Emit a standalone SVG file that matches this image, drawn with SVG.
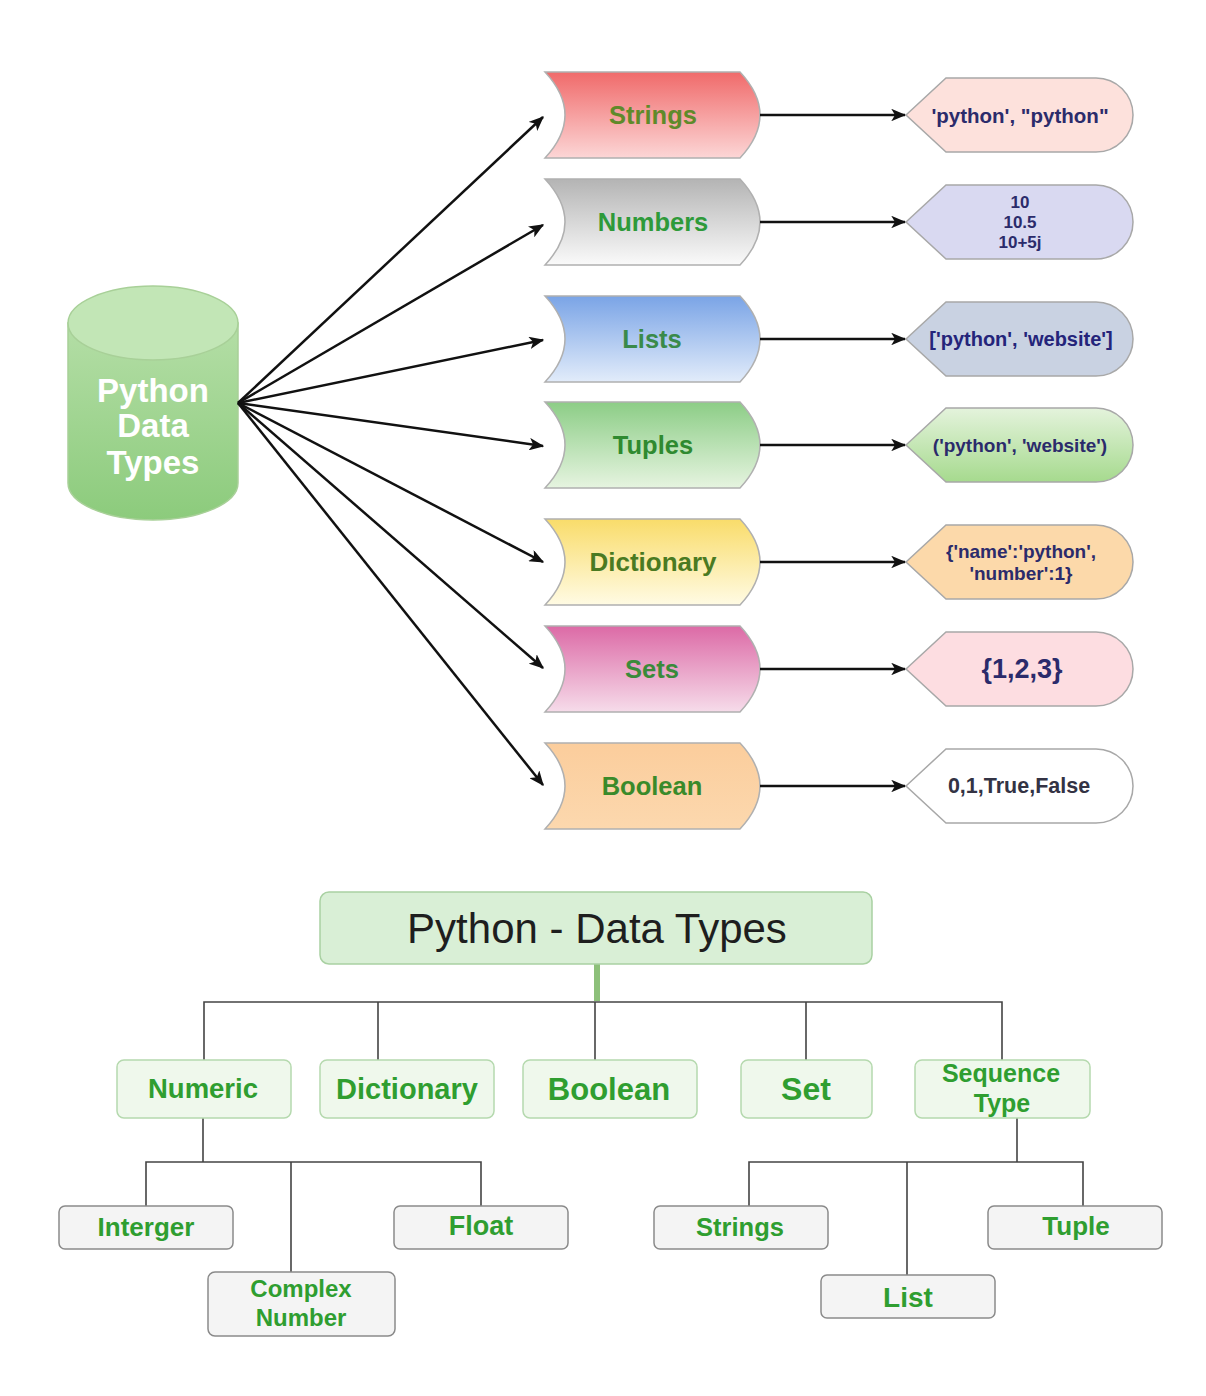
<svg xmlns="http://www.w3.org/2000/svg" width="1206" height="1396" viewBox="0 0 1206 1396">
<style>
  .bl{font-family:"Liberation Sans",Arial,sans-serif;font-weight:bold;font-size:25.5px;text-anchor:middle;dominant-baseline:central}
  .ex{font-family:"Liberation Sans",Arial,sans-serif;font-weight:bold;font-size:20px;fill:#2b2b6b;text-anchor:middle;dominant-baseline:central}
  .ban{stroke:#b0b0b0;stroke-width:1.5}
  .disp{stroke:#a8a8a8;stroke-width:1.5}
  .arr{stroke:#111;stroke-width:2.5;fill:none;marker-end:url(#ah)}
  .tl{stroke:#444;stroke-width:1.6;fill:none}
  .l2{fill:#eff8ec;stroke:#b5d9ae;stroke-width:1.5}
  .l3{fill:#f4f4f4;stroke:#8a8a8a;stroke-width:1.5}
  .gt{font-family:"Liberation Sans",Arial,sans-serif;font-weight:bold;fill:#2f9e30;text-anchor:middle;dominant-baseline:central}
</style>
<defs>
  <marker id="ah" viewBox="0 0 12 10" refX="11" refY="5" markerWidth="6" markerHeight="5" orient="auto" markerUnits="strokeWidth">
    <path d="M0,0 L12,5 L0,10 L3,5 Z" fill="#111"/>
  </marker>
  <linearGradient id="gStr" x1="0" y1="0" x2="0" y2="1"><stop offset="0" stop-color="#f06a6a"/><stop offset="1" stop-color="#fcd6d6"/></linearGradient>
  <linearGradient id="gNum" x1="0" y1="0" x2="0" y2="1"><stop offset="0" stop-color="#b4b4b4"/><stop offset="1" stop-color="#fafafa"/></linearGradient>
  <linearGradient id="gLst" x1="0" y1="0" x2="0" y2="1"><stop offset="0" stop-color="#7aa4e6"/><stop offset="1" stop-color="#e2ecfa"/></linearGradient>
  <linearGradient id="gTup" x1="0" y1="0" x2="0" y2="1"><stop offset="0" stop-color="#8ccd86"/><stop offset="1" stop-color="#e6f4e0"/></linearGradient>
  <linearGradient id="gDic" x1="0" y1="0" x2="0" y2="1"><stop offset="0" stop-color="#f9dc6a"/><stop offset="1" stop-color="#fffbe4"/></linearGradient>
  <linearGradient id="gSet" x1="0" y1="0" x2="0" y2="1"><stop offset="0" stop-color="#dc6aa6"/><stop offset="1" stop-color="#f6dcea"/></linearGradient>
  <linearGradient id="gBoo" x1="0" y1="0" x2="0" y2="1"><stop offset="0" stop-color="#fbcd9c"/><stop offset="1" stop-color="#fcd8ae"/></linearGradient>
  <linearGradient id="gTupX" x1="0" y1="0" x2="0" y2="1"><stop offset="0" stop-color="#e4f3dc"/><stop offset="1" stop-color="#a6da8e"/></linearGradient>
  <linearGradient id="gCyl" x1="0" y1="0" x2="0" y2="1"><stop offset="0" stop-color="#b4dea6"/><stop offset="1" stop-color="#8ccb7c"/></linearGradient>
</defs>
<rect width="1206" height="1396" fill="#ffffff"/>

<!-- Cylinder -->
<g id="python-data-types">
  <path d="M68,323 L68,483 A85,37 0 0 0 238,483 L238,323 Z" fill="url(#gCyl)" stroke="#a8d098" stroke-width="1.5"/>
  <ellipse cx="153" cy="323" rx="85" ry="37" fill="#c2e6b6" stroke="#a8d098" stroke-width="1.5"/>
  <text x="153" y="390" class="bl" style="fill:#ffffff;font-size:33px">Python</text>
  <text x="153" y="425" class="bl" style="fill:#ffffff;font-size:33px">Data</text>
  <text x="153" y="462" class="bl" style="fill:#ffffff;font-size:33px">Types</text>
</g>

<!-- Banners -->
<g id="strings">
  <path class="ban" d="M545,72 L740,72 Q780,115 740,158 L545,158 Q585,115 545,72 Z" fill="url(#gStr)"/>
  <text x="653" y="115" class="bl" fill="#5f8a2a">Strings</text>
</g>
<g id="numbers">
  <path class="ban" d="M545,179 L740,179 Q780,222 740,265 L545,265 Q585,222 545,179 Z" fill="url(#gNum)"/>
  <text x="653" y="222" class="bl" fill="#2e9a3a">Numbers</text>
</g>
<g id="lists">
  <path class="ban" d="M545,296 L740,296 Q780,339 740,382 L545,382 Q585,339 545,296 Z" fill="url(#gLst)"/>
  <text x="652" y="339" class="bl" fill="#3a8a4a">Lists</text>
</g>
<g id="tuples">
  <path class="ban" d="M545,402 L740,402 Q780,445 740,488 L545,488 Q585,445 545,402 Z" fill="url(#gTup)"/>
  <text x="653" y="445" class="bl" fill="#2f8a30">Tuples</text>
</g>
<g id="dictionary">
  <path class="ban" d="M545,519 L740,519 Q780,562 740,605 L545,605 Q585,562 545,519 Z" fill="url(#gDic)"/>
  <text x="653" y="562" class="bl" fill="#4a7a22" style="font-size:26px">Dictionary</text>
</g>
<g id="sets">
  <path class="ban" d="M545,626 L740,626 Q780,669 740,712 L545,712 Q585,669 545,626 Z" fill="url(#gSet)"/>
  <text x="652" y="669" class="bl" fill="#3a8a3a">Sets</text>
</g>
<g id="boolean">
  <path class="ban" d="M545,743 L740,743 Q780,786 740,829 L545,829 Q585,786 545,743 Z" fill="url(#gBoo)"/>
  <text x="652" y="786" class="bl" fill="#3a8a2a">Boolean</text>
</g>

<!-- Example displays -->
<g id="ex-strings">
  <path class="disp" d="M906,115 L946,78 L1096,78 A37,37 0 0 1 1096,152 L946,152 Z" fill="#fde1dc"/>
  <text x="1020" y="115" class="ex" style="font-size:20.5px">'python', "python"</text>
</g>
<g id="ex-numbers">
  <path class="disp" d="M906,222 L946,185 L1096,185 A37,37 0 0 1 1096,259 L946,259 Z" fill="#d9d9f1"/>
  <text x="1020" y="202" class="ex" style="font-size:17px">10</text>
  <text x="1020" y="222" class="ex" style="font-size:17px">10.5</text>
  <text x="1020" y="242" class="ex" style="font-size:17px">10+5j</text>
</g>
<g id="ex-lists">
  <path class="disp" d="M906,339 L946,302 L1096,302 A37,37 0 0 1 1096,376 L946,376 Z" fill="#c9d2e2"/>
  <text x="1021" y="339" class="ex" style="fill:#24247a">['python', 'website']</text>
</g>
<g id="ex-tuples">
  <path class="disp" d="M906,445 L946,408 L1096,408 A37,37 0 0 1 1096,482 L946,482 Z" fill="url(#gTupX)"/>
  <text x="1020" y="445" class="ex" style="font-size:19px">('python', 'website')</text>
</g>
<g id="ex-dictionary">
  <path class="disp" d="M906,562 L946,525 L1096,525 A37,37 0 0 1 1096,599 L946,599 Z" fill="#fcd9aa"/>
  <text x="1021" y="551" class="ex" style="font-size:19px">{'name':'python',</text>
  <text x="1021" y="573" class="ex" style="font-size:19px">'number':1}</text>
</g>
<g id="ex-sets">
  <path class="disp" d="M906,669 L946,632 L1096,632 A37,37 0 0 1 1096,706 L946,706 Z" fill="#fddde1"/>
  <text x="1022" y="669" class="ex" style="font-size:27px">{1,2,3}</text>
</g>
<g id="ex-boolean">
  <path class="disp" d="M906,786 L946,749 L1096,749 A37,37 0 0 1 1096,823 L946,823 Z" fill="#ffffff"/>
  <text x="1019" y="786" class="ex" style="fill:#333344;font-size:21.5px">0,1,True,False</text>
</g>

<!-- Connectors -->
<g id="connectors">
  <line class="arr" x1="238" y1="403" x2="543" y2="117"/>
  <line class="arr" x1="238" y1="403" x2="543" y2="225"/>
  <line class="arr" x1="238" y1="403" x2="543" y2="340"/>
  <line class="arr" x1="238" y1="403" x2="543" y2="446"/>
  <line class="arr" x1="238" y1="403" x2="543" y2="562"/>
  <line class="arr" x1="238" y1="403" x2="543" y2="668"/>
  <line class="arr" x1="238" y1="403" x2="543" y2="785"/>
  <line class="arr" x1="760" y1="115" x2="905" y2="115"/>
  <line class="arr" x1="760" y1="222" x2="905" y2="222"/>
  <line class="arr" x1="760" y1="339" x2="905" y2="339"/>
  <line class="arr" x1="760" y1="445" x2="905" y2="445"/>
  <line class="arr" x1="760" y1="562" x2="905" y2="562"/>
  <line class="arr" x1="760" y1="669" x2="905" y2="669"/>
  <line class="arr" x1="760" y1="786" x2="905" y2="786"/>
  <!-- tree -->
  <line x1="597" y1="964" x2="597" y2="1001" stroke="#8dc07a" stroke-width="6"/>
  <path class="tl" d="M204,1060 V1002 H1002 V1060 M378,1002 V1060 M595,1002 V1060 M806,1002 V1060"/>
  <path class="tl" d="M203,1118 V1162 M146,1206 V1162 H481 V1206 M291,1162 V1272"/>
  <path class="tl" d="M1017,1118 V1162 M749,1206 V1162 H1083 V1206 M907,1162 V1275"/>
</g>

<!-- Tree nodes -->
<g id="title">
  <rect x="320" y="892" width="552" height="72" rx="9" fill="#d9efd6" stroke="#a9d1a2" stroke-width="1.5"/>
  <text x="597" y="928" style="font-family:'Liberation Sans',Arial,sans-serif;font-size:42px;fill:#1e1e1e;text-anchor:middle;dominant-baseline:central">Python - Data Types</text>
</g>
<g id="numeric">
  <rect class="l2" x="117" y="1060" width="174" height="58" rx="7"/>
  <text class="gt" x="203" y="1088" style="font-size:27.5px">Numeric</text>
</g>
<g id="dictionary2">
  <rect class="l2" x="320" y="1060" width="174" height="58" rx="7"/>
  <text class="gt" x="407" y="1089" style="font-size:29px">Dictionary</text>
</g>
<g id="boolean2">
  <rect class="l2" x="523" y="1060" width="174" height="58" rx="7"/>
  <text class="gt" x="609" y="1089" style="font-size:31px">Boolean</text>
</g>
<g id="set">
  <rect class="l2" x="741" y="1060" width="131" height="58" rx="7"/>
  <text class="gt" x="806" y="1089" style="font-size:32px">Set</text>
</g>
<g id="sequence-type">
  <rect class="l2" x="915" y="1060" width="175" height="58" rx="7"/>
  <text class="gt" x="1001" y="1073" style="font-size:25px">Sequence</text>
  <text class="gt" x="1002" y="1103" style="font-size:25px">Type</text>
</g>
<g id="interger">
  <rect class="l3" x="59" y="1206" width="174" height="43" rx="6"/>
  <text class="gt" x="146" y="1227" style="font-size:26px">Interger</text>
</g>
<g id="float">
  <rect class="l3" x="394" y="1206" width="174" height="43" rx="6"/>
  <text class="gt" x="481" y="1226" style="font-size:27px">Float</text>
</g>
<g id="complex-number">
  <rect class="l3" x="208" y="1272" width="187" height="64" rx="7"/>
  <text class="gt" x="301" y="1288" style="font-size:24px">Complex</text>
  <text class="gt" x="301" y="1317" style="font-size:24px">Number</text>
</g>
<g id="strings2">
  <rect class="l3" x="654" y="1206" width="174" height="43" rx="6"/>
  <text class="gt" x="740" y="1227" style="font-size:25.5px">Strings</text>
</g>
<g id="tuple">
  <rect class="l3" x="988" y="1206" width="174" height="43" rx="6"/>
  <text class="gt" x="1076" y="1226" style="font-size:26px">Tuple</text>
</g>
<g id="list">
  <rect class="l3" x="821" y="1275" width="174" height="43" rx="6"/>
  <text class="gt" x="908" y="1297" style="font-size:28px">List</text>
</g>
</svg>
